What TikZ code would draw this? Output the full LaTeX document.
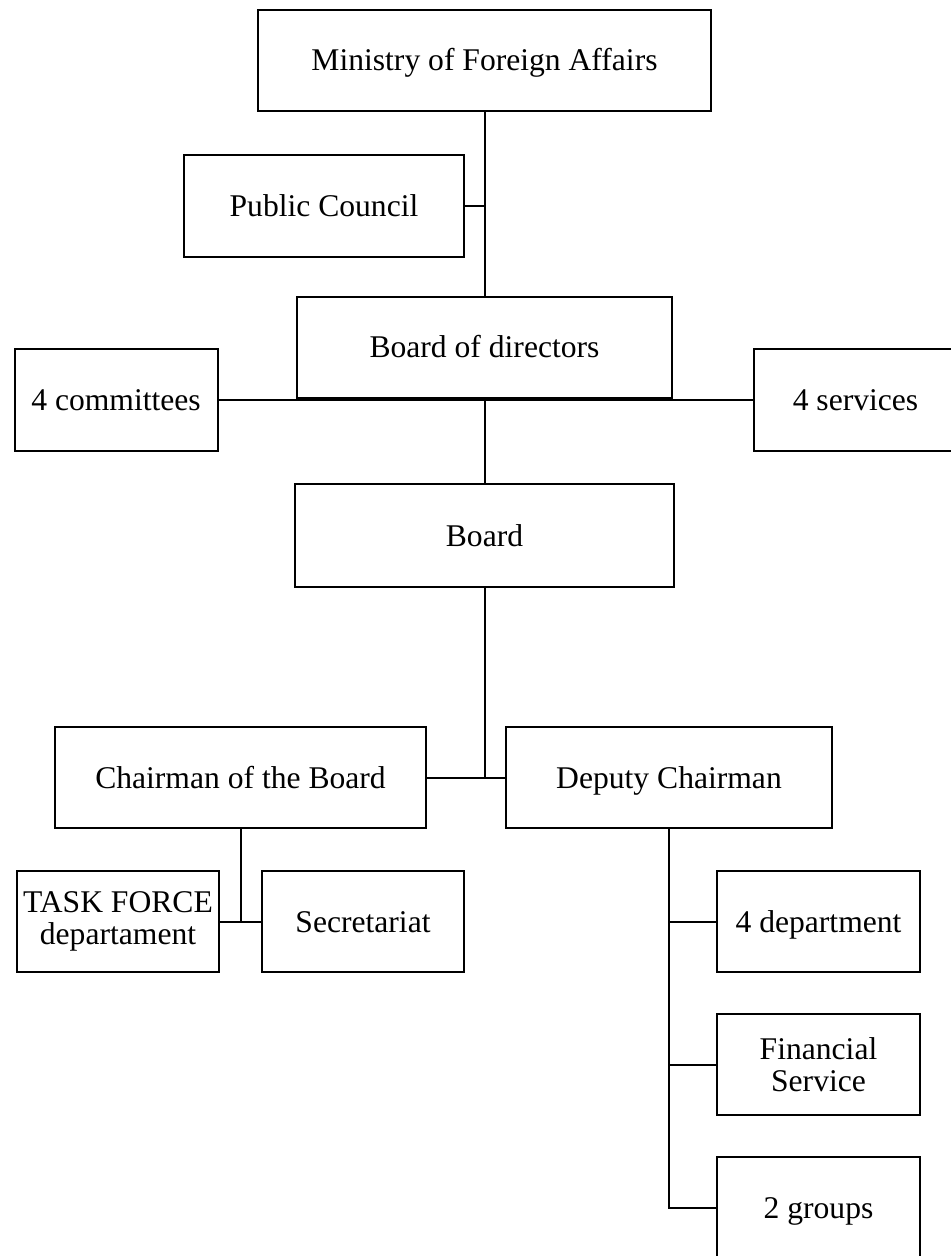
\documentclass[tikz,border=0pt]{standalone}
\usepackage{fontspec}
\setmainfont{Liberation Serif}
\usepackage{tikz}

\begin{document}
\begin{tikzpicture}[x=0.5pt, y=-0.5pt,
    orgbox/.style={draw, line width=1pt, minimum height=50.5pt, align=center, inner sep=2pt,
        text height=12pt, text depth=1.5pt, font=\fontsize{15.8}{16.3}\selectfont},
    twoline/.style={text height=, text depth=},
    link/.style={line width=1pt}]
            \useasboundingbox (0, 0) rectangle (951, 1256);
            \node [orgbox, minimum width=226.5pt] (mfa) at (484.5, 60.5) {Ministry of Foreign Affairs};
            \node [orgbox, minimum width=140pt, minimum height=51pt] (council) at (324, 206) {Public Council};
            \node [orgbox, minimum width=187.5pt] (directors) at (484.5, 347.5) {Board of directors};
            \node [orgbox, minimum width=101.5pt, minimum height=51pt] (committees) at (116, 400) {4 committees};
            \node [orgbox, minimum width=101.5pt, minimum height=51pt] (services) at (855.5, 400) {4 services};
            \node [orgbox, minimum width=189.5pt, minimum height=51.5pt] (board) at (484.5, 535.5) {Board};
            \node [orgbox, minimum width=185.5pt] (chair) at (240.5, 777.5) {Chairman of the Board};
            \node [orgbox, minimum width=163pt] (deputy) at (669, 777.5) {Deputy Chairman};
            \node [orgbox, twoline, minimum width=101pt] (taskforce) at (118, 921.5) {TASK FORCE\\departament};
            \node [orgbox, minimum width=101pt] (secretariat) at (363, 921.5) {Secretariat};
            \node [orgbox, minimum width=101.5pt] (dept) at (818.5, 921.5) {4 department};
            \node [orgbox, twoline, minimum width=101.5pt] (finance) at (818.5, 1064.5) {Financial\\Service};
            \node [orgbox, minimum width=101.5pt] (groups) at (818.5, 1207.5) {2 groups};
            \draw [link] (mfa.south) -- (directors.north);
            \draw [link] (council.east) -- (council.east -| mfa.south);
            \draw [link] (committees.east) -- (services.west);
            \draw [link] (directors.south) -- (board.north);
            \draw [link] (board.south) -- (board.south |- chair.east);
            \draw [link] (chair.east) -- (deputy.west);
            \draw [link] (chair.south) -- (chair.south |- taskforce.east);
            \draw [link] (taskforce.east) -- (secretariat.west);
            \draw [link] (deputy.south) -- (deputy.south |- groups.west) -- (groups.west);
            \draw [link] (deputy.south |- dept.west) -- (dept.west);
            \draw [link] (deputy.south |- finance.west) -- (finance.west);
        \end{tikzpicture}
\end{document}
